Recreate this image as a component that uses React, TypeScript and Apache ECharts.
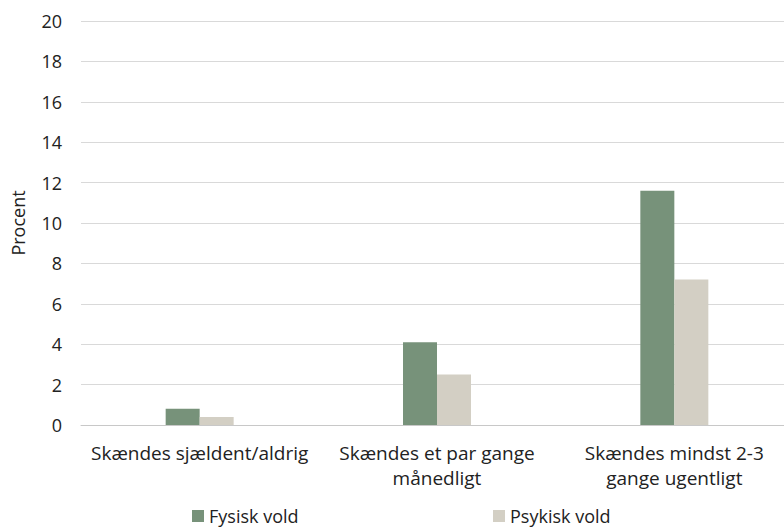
import React, { useEffect, useRef } from "react";
import * as echarts from "echarts";

const categories = [
  "Skændes sjældent/aldrig",
  "Skændes et par gange\nmånedligt",
  "Skændes mindst 2-3\ngange ugentligt",
];
const fysiskVold = [0.8, 4.1, 11.6];
const psykiskVold = [0.4, 2.5, 7.2];
const seriesNames = ["Fysisk vold", "Psykisk vold"];
const colors = ["#77927a", "#d3cfc4"];

const FONT = "Open Sans";
const TEXT = "#222222";

export default function App() {
  const ref = useRef<HTMLDivElement>(null);
  useEffect(() => {
    if (!ref.current) return;
    const chart = echarts.init(ref.current, undefined, { renderer: "svg" });
    const legendCommon = {
      top: 507,
      padding: 0,
      itemWidth: 12,
      itemHeight: 12,
      icon: "rect",
      textStyle: { fontFamily: FONT, fontSize: 18, lineHeight: 17, color: TEXT },
    };
    chart.setOption({
      animation: false,
      textStyle: { fontFamily: FONT },
      grid: { left: 81, top: 21, bottom: 104, right: 8, containLabel: false },
      legend: [
        { ...legendCommon, left: 192, data: [seriesNames[0]] },
        { ...legendCommon, left: 493, data: [seriesNames[1]] },
      ],
      xAxis: {
        type: "category",
        data: categories,
        axisTick: { show: false },
        axisLine: { lineStyle: { color: "#c8c8c8", width: 1 } },
        axisLabel: {
          interval: 0,
          hideOverlap: false,
          fontFamily: FONT,
          fontSize: 19,
          color: TEXT,
          margin: 15,
          lineHeight: 25,
        },
      },
      yAxis: {
        type: "value",
        min: 0,
        max: 20,
        interval: 2,
        name: "Procent",
        nameLocation: "middle",
        nameGap: 54,
        nameTextStyle: { fontFamily: FONT, fontSize: 18, color: TEXT },
        axisLine: { show: false },
        axisTick: { show: false },
        axisLabel: { fontFamily: FONT, fontSize: 18, color: TEXT, margin: 19 },
        splitLine: { lineStyle: { color: "#d9d9d9", width: 1 } },
      },
      series: [
        {
          name: seriesNames[0],
          type: "bar",
          data: fysiskVold,
          itemStyle: { color: colors[0] },
          barWidth: 34,
          barGap: "0%",
        },
        {
          name: seriesNames[1],
          type: "bar",
          data: psykiskVold,
          itemStyle: { color: colors[1] },
          barWidth: 34,
          barGap: "0%",
        },
      ],
    });
    return () => chart.dispose();
  }, []);
  return (
    <div
      ref={ref}
      style={{ position: "fixed", left: 0, top: 0, width: 801, height: 529, background: "#fff" }}
    />
  );
}
